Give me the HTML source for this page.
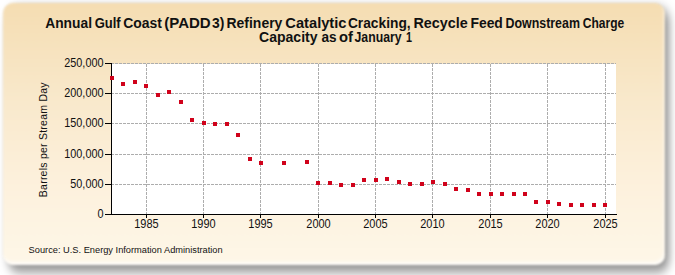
<!DOCTYPE html>
<html><head><meta charset="utf-8"><style>
html,body{margin:0;padding:0;background:#fff;width:675px;height:275px;overflow:hidden}
.panel{position:absolute;left:3px;top:3px;width:662px;height:262px;border-radius:10px;
background:linear-gradient(to bottom,#f5ddb2 0%,#f9e9cc 38%,#fdf1dd 70%,#fef7e8 100%);
box-shadow:inset -1px -3px 3px rgba(255,255,255,0.8);filter:blur(1px)}
svg{position:absolute;left:0;top:0}
text{font-family:"Liberation Sans",sans-serif;fill:#111}
.tt{font-weight:bold;font-size:14px}
</style></head><body>
<svg width="675" height="275" style="position:absolute;left:0;top:0"><defs><filter id="sh" x="-10%" y="-10%" width="120%" height="130%"><feGaussianBlur stdDeviation="4 6"/></filter></defs><rect x="8" y="8" width="661" height="264" rx="12" fill="rgba(0,0,12,0.44)" filter="url(#sh)"/></svg><div class="panel"></div>
<svg width="675" height="275" viewBox="0 0 675 275">
<text x="45.20" y="27.6" transform="translate(45.2 0) scale(0.987 1) translate(-45.2 0)" class="tt">Annual</text><text x="94.67" y="27.6" transform="translate(94.67 0) scale(0.93 1) translate(-94.67 0)" class="tt">Gulf</text><text x="123.21" y="27.6" transform="translate(123.21 0) scale(0.995 1) translate(-123.21 0)" class="tt">Coast</text><text x="164.23" y="27.6" transform="translate(164.23 0) scale(1.074 1) translate(-164.23 0)" class="tt">(PADD</text><text x="212.10" y="27.6" transform="translate(212.1 0) scale(0.992 1) translate(-212.1 0)" class="tt">3)</text><text x="226.50" y="27.6" transform="translate(226.5 0) scale(0.998 1) translate(-226.5 0)" class="tt">Refinery</text><text x="285.35" y="27.6" transform="translate(285.35 0) scale(1.049 1) translate(-285.35 0)" class="tt">Catalytic</text><text x="347.92" y="27.6" transform="translate(347.92 0) scale(0.984 1) translate(-347.92 0)" class="tt">Cracking,</text><text x="413.48" y="27.6" transform="translate(413.48 0) scale(1.025 1) translate(-413.48 0)" class="tt">Recycle</text><text x="470.41" y="27.6" transform="translate(470.41 0) scale(0.994 1) translate(-470.41 0)" class="tt">Feed</text><text x="505.51" y="27.6" transform="translate(505.51 0) scale(0.887 1) translate(-505.51 0)" class="tt">Downstream</text><text x="582.74" y="27.6" transform="translate(582.74 0) scale(0.86 1) translate(-582.74 0)" class="tt">Charge</text><text x="259.00" y="42.4" transform="translate(259.0 0) scale(1.004 1) translate(-259.0 0)" class="tt">Capacity</text><text x="321.40" y="42.4" transform="translate(321.4 0) scale(0.973 1) translate(-321.4 0)" class="tt">as</text><text x="339.10" y="42.4" transform="translate(339.1 0) scale(1.054 1) translate(-339.1 0)" class="tt">of</text><text x="354.50" y="42.4" transform="translate(354.5 0) scale(0.878 1) translate(-354.5 0)" class="tt">January</text><text x="406.03" y="42.4" transform="translate(406.03 0) scale(0.771 1) translate(-406.03 0)" class="tt">1</text>
<rect x="112" y="64" width="504" height="150" fill="#fff"/>
<g stroke="#adadad" stroke-width="1" stroke-dasharray="3 1"><line x1="112" y1="63.5" x2="616" y2="63.5" stroke-dashoffset="1"/><line x1="112" y1="93.5" x2="616" y2="93.5" stroke-dashoffset="1"/><line x1="112" y1="123.5" x2="616" y2="123.5" stroke-dashoffset="1"/><line x1="112" y1="154.5" x2="616" y2="154.5" stroke-dashoffset="1"/><line x1="112" y1="184.5" x2="616" y2="184.5" stroke-dashoffset="1"/><line x1="146.5" y1="64" x2="146.5" y2="214"/><line x1="203.5" y1="64" x2="203.5" y2="214"/><line x1="260.5" y1="64" x2="260.5" y2="214"/><line x1="318.5" y1="64" x2="318.5" y2="214"/><line x1="375.5" y1="64" x2="375.5" y2="214"/><line x1="432.5" y1="64" x2="432.5" y2="214"/><line x1="490.5" y1="64" x2="490.5" y2="214"/><line x1="547.5" y1="64" x2="547.5" y2="214"/><line x1="605.5" y1="64" x2="605.5" y2="214"/></g>
<g stroke="#000" stroke-width="1"><line x1="105" y1="63.5" x2="111" y2="63.5"/><line x1="105" y1="93.5" x2="111" y2="93.5"/><line x1="105" y1="123.5" x2="111" y2="123.5"/><line x1="105" y1="154.5" x2="111" y2="154.5"/><line x1="105" y1="184.5" x2="111" y2="184.5"/><line x1="105" y1="214.5" x2="111" y2="214.5"/><line x1="146.5" y1="215" x2="146.5" y2="218"/><line x1="203.5" y1="215" x2="203.5" y2="218"/><line x1="260.5" y1="215" x2="260.5" y2="218"/><line x1="318.5" y1="215" x2="318.5" y2="218"/><line x1="375.5" y1="215" x2="375.5" y2="218"/><line x1="432.5" y1="215" x2="432.5" y2="218"/><line x1="490.5" y1="215" x2="490.5" y2="218"/><line x1="547.5" y1="215" x2="547.5" y2="218"/><line x1="605.5" y1="215" x2="605.5" y2="218"/>
<line x1="111.5" y1="63" x2="111.5" y2="215"/><line x1="111" y1="214.5" x2="617" y2="214.5"/></g>
<g fill="#d0021b"><rect x="110" y="76" width="4" height="4"/><rect x="121" y="82" width="4" height="4"/><rect x="133" y="80" width="4" height="4"/><rect x="144" y="84" width="4" height="4"/><rect x="156" y="93" width="4" height="4"/><rect x="167" y="90" width="4" height="4"/><rect x="179" y="100" width="4" height="4"/><rect x="190" y="118" width="4" height="4"/><rect x="202" y="121" width="4" height="4"/><rect x="213" y="122" width="4" height="4"/><rect x="225" y="122" width="4" height="4"/><rect x="236" y="133" width="4" height="4"/><rect x="248" y="157" width="4" height="4"/><rect x="259" y="161" width="4" height="4"/><rect x="282" y="161" width="4" height="4"/><rect x="305" y="160" width="4" height="4"/><rect x="316" y="181" width="4" height="4"/><rect x="328" y="181" width="4" height="4"/><rect x="339" y="183" width="4" height="4"/><rect x="351" y="183" width="4" height="4"/><rect x="362" y="178" width="4" height="4"/><rect x="374" y="178" width="4" height="4"/><rect x="385" y="177" width="4" height="4"/><rect x="397" y="180" width="4" height="4"/><rect x="408" y="182" width="4" height="4"/><rect x="420" y="182" width="4" height="4"/><rect x="431" y="180" width="4" height="4"/><rect x="443" y="182" width="4" height="4"/><rect x="454" y="187" width="4" height="4"/><rect x="466" y="188" width="4" height="4"/><rect x="477" y="192" width="4" height="4"/><rect x="489" y="192" width="4" height="4"/><rect x="500" y="192" width="4" height="4"/><rect x="512" y="192" width="4" height="4"/><rect x="523" y="192" width="4" height="4"/><rect x="534" y="200" width="4" height="4"/><rect x="546" y="200" width="4" height="4"/><rect x="557" y="202" width="4" height="4"/><rect x="569" y="203" width="4" height="4"/><rect x="580" y="203" width="4" height="4"/><rect x="592" y="203" width="4" height="4"/><rect x="603" y="203" width="4" height="4"/></g>
<g style="font-size:12px"><text x="103.5" y="67.5" text-anchor="end" transform="translate(103.5 0) scale(0.905 1) translate(-103.5 0)">250,000</text><text x="103.5" y="97.5" text-anchor="end" transform="translate(103.5 0) scale(0.905 1) translate(-103.5 0)">200,000</text><text x="103.5" y="127.5" text-anchor="end" transform="translate(103.5 0) scale(0.905 1) translate(-103.5 0)">150,000</text><text x="103.5" y="158.5" text-anchor="end" transform="translate(103.5 0) scale(0.905 1) translate(-103.5 0)">100,000</text><text x="103.5" y="188.5" text-anchor="end" transform="translate(103.5 0) scale(0.905 1) translate(-103.5 0)">50,000</text><text x="103.5" y="218.5" text-anchor="end" transform="translate(103.5 0) scale(0.905 1) translate(-103.5 0)">0</text><text x="146.5" y="228" text-anchor="middle" transform="translate(146.5 0) scale(0.916 1) translate(-146.5 0)">1985</text><text x="203.5" y="228" text-anchor="middle" transform="translate(203.5 0) scale(0.916 1) translate(-203.5 0)">1990</text><text x="260.5" y="228" text-anchor="middle" transform="translate(260.5 0) scale(0.916 1) translate(-260.5 0)">1995</text><text x="318.5" y="228" text-anchor="middle" transform="translate(318.5 0) scale(0.916 1) translate(-318.5 0)">2000</text><text x="375.5" y="228" text-anchor="middle" transform="translate(375.5 0) scale(0.916 1) translate(-375.5 0)">2005</text><text x="432.5" y="228" text-anchor="middle" transform="translate(432.5 0) scale(0.916 1) translate(-432.5 0)">2010</text><text x="490.5" y="228" text-anchor="middle" transform="translate(490.5 0) scale(0.916 1) translate(-490.5 0)">2015</text><text x="547.5" y="228" text-anchor="middle" transform="translate(547.5 0) scale(0.916 1) translate(-547.5 0)">2020</text><text x="605.5" y="228" text-anchor="middle" transform="translate(605.5 0) scale(0.916 1) translate(-605.5 0)">2025</text></g>
<text transform="translate(47 139.7) rotate(-90)" text-anchor="middle" style="font-size:10.5px;letter-spacing:0.24px">Barrels per Stream Day</text>
<text x="28.6" y="252.8" style="font-size:9.5px" transform="translate(28.6 0) scale(0.976 1) translate(-28.6 0)">Source: U.S. Energy Information Administration</text>
</svg>
</body></html>
